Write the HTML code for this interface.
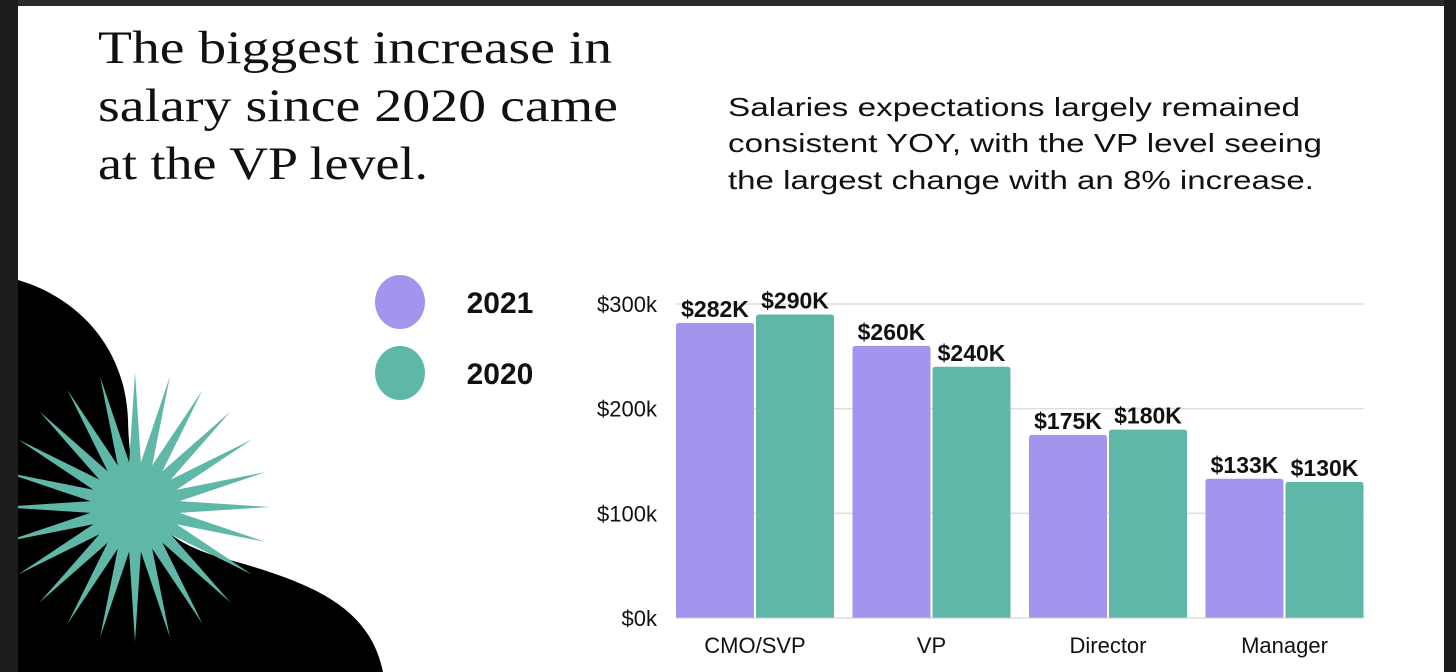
<!DOCTYPE html>
<html><head><meta charset="utf-8"><style>
html,body{margin:0;padding:0;background:#fff;}
svg{display:block;}
</style></head><body>
<svg id="root" width="1456" height="672" viewBox="0 0 1456 672" xmlns="http://www.w3.org/2000/svg">
<rect x="0" y="0" width="1456" height="672" fill="#ffffff"/>
<path d="M18 280 C70 295 125 340 128 420 C130 500 150 540 230 560 C320 585 370 610 383 672 L18 672 Z" fill="#000"/>
<polygon id="star" fill="#5fb7a8"/>
<g font-family="'Liberation Serif', serif" font-size="47" fill="#111">
<text x="98" y="63" textLength="514" lengthAdjust="spacingAndGlyphs">The biggest increase in</text>
<text x="98" y="121" textLength="520" lengthAdjust="spacingAndGlyphs">salary since 2020 came</text>
<text x="98" y="179" textLength="330" lengthAdjust="spacingAndGlyphs">at the VP level.</text>
</g>
<g font-family="'Liberation Sans', sans-serif" font-size="26" fill="#111">
<text x="728" y="116" textLength="572" lengthAdjust="spacingAndGlyphs">Salaries expectations largely remained</text>
<text x="728" y="152" textLength="594" lengthAdjust="spacingAndGlyphs">consistent YOY, with the VP level seeing</text>
<text x="728" y="189" textLength="586" lengthAdjust="spacingAndGlyphs">the largest change with an 8% increase.</text>
</g>
<g>
<ellipse cx="400" cy="302" rx="25" ry="27" fill="#a594ee"/>
<text x="500" y="313" text-anchor="middle" font-family="'Liberation Sans', sans-serif" font-weight="bold" font-size="30" fill="#111">2021</text>
<ellipse cx="400" cy="373" rx="25" ry="27" fill="#5fb7a8"/>
<text x="500" y="384" text-anchor="middle" font-family="'Liberation Sans', sans-serif" font-weight="bold" font-size="30" fill="#111">2020</text>
</g>
<g id="chart"></g>
<rect x="0" y="0" width="1456" height="6" fill="#2b2b2b"/>
<rect x="0" y="0" width="18" height="672" fill="#1c1c1c"/>
<rect x="1444" y="0" width="12" height="672" fill="#1c1c1c"/>
</svg>
<script>
const categories = ['CMO/SVP', 'VP', 'Director', 'Manager'];
const values2021 = [282, 260, 175, 133];
const values2020 = [290, 240, 180, 130];
const labels2021 = ['$282K', '$260K', '$175K', '$133K'];
const labels2020 = ['$290K', '$240K', '$180K', '$130K'];
const yTicks = [0, 100, 200, 300];
const yTickLabels = ['$0k', '$100k', '$200k', '$300k'];

const NS = 'http://www.w3.org/2000/svg';
const chart = document.getElementById('chart');
const x0 = 676, x1 = 1364, base = 618, top300 = 304;
const y = v => base - v * (base - top300) / 300;
const groupW = (x1 - x0 + 18) / categories.length;
const barW = 78;
function mk(tag, attrs) { const e = document.createElementNS(NS, tag); for (const k in attrs) e.setAttribute(k, attrs[k]); return e; }

yTicks.forEach((t, i) => {
  if (t > 0) {
    const g = mk('line', {x1: x0, x2: x1, y1: y(t), y2: y(t), stroke: '#dddddd', 'stroke-width': 1.5});
    
    
    chart.appendChild(g);
  }
  const tx = mk('text', {x: 657, y: y(t) + 8, 'text-anchor': 'end', 'font-family': "'Liberation Sans', sans-serif", 'font-size': 22, fill: '#111'});
  tx.textContent = yTickLabels[i];
  
  
  chart.appendChild(tx);
});

function bar(xl, v, color, label) {
  const r = mk('path', {d: `M${xl} ${base} L${xl} ${y(v)+3} Q${xl} ${y(v)} ${xl+3} ${y(v)} L${xl+barW-3} ${y(v)} Q${xl+barW} ${y(v)} ${xl+barW} ${y(v)+3} L${xl+barW} ${base} Z`, fill: color});
  
  
  chart.appendChild(r);
  const t = mk('text', {x: xl + barW / 2, y: y(v) - 6, 'text-anchor': 'middle', 'font-family': "'Liberation Sans', sans-serif", 'font-weight': 'bold', 'font-size': 23, fill: '#111'});
  t.textContent = label;
  
  
  chart.appendChild(t);
}

categories.forEach((c, i) => {
  const gx = x0 + i * groupW;
  bar(gx, values2021[i], '#a594ee', labels2021[i]);
  bar(gx + barW + 2, values2020[i], '#5fb7a8', labels2020[i]);
  const t = mk('text', {x: gx + barW + 1, y: 653, 'text-anchor': 'middle', 'font-family': "'Liberation Sans', sans-serif", 'font-size': 22, fill: '#111'});
  t.textContent = c;
  
  
  chart.appendChild(t);
});
const axis = mk('line', {x1: x0, x2: x1, y1: base, y2: base, stroke: '#cccccc', 'stroke-width': 1});


chart.appendChild(axis);

// starburst
const cx = 135, cy = 507, n = 24, ro = 135, ri = 45;
const pts = [];
for (let k = 0; k < n * 2; k++) {
  const a = Math.PI * k / n - Math.PI / 2;
  const rr = k % 2 === 0 ? ro : ri;
  pts.push((cx + rr * Math.cos(a)).toFixed(1) + ',' + (cy + rr * Math.sin(a)).toFixed(1));
}
document.getElementById('star').setAttribute('points', pts.join(' '));
</script>
</body></html>
